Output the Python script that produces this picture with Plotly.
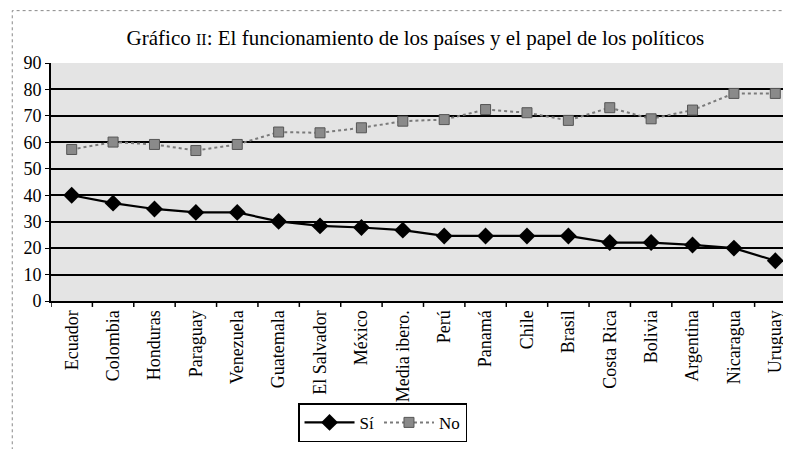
import plotly.graph_objects as go

categories = ["Ecuador", "Colombia", "Honduras", "Paraguay", "Venezuela", "Guatemala",
              "El Salvador", "México", "Media ibero.", "Perú", "Panamá", "Chile",
              "Brasil", "Costa Rica", "Bolivia", "Argentina", "Nicaragua", "Uruguay"]
si_values = [40.0, 37.0, 34.8, 33.5, 33.5, 30.1, 28.4, 27.8, 26.8, 24.6, 24.6, 24.6,
             24.6, 22.1, 22.1, 21.2, 20.0, 15.2]
no_values = [57.3, 60.1, 59.2, 56.9, 59.2, 63.9, 63.6, 65.5, 68.0, 68.6, 72.4, 71.2,
             68.3, 73.1, 68.9, 72.2, 78.5, 78.5]
y_ticks = [0, 10, 20, 30, 40, 50, 60, 70, 80, 90]

serif = "Liberation Serif, Times New Roman, serif"
x_idx = list(range(len(categories)))

fig = go.Figure()
fig.add_trace(go.Scatter(
    x=x_idx, y=si_values, name="Sí", mode="lines+markers",
    line=dict(color="black", width=2.2),
    marker=dict(symbol="diamond", size=13, color="black"),
))
fig.add_trace(go.Scatter(
    x=x_idx, y=no_values, name="No", mode="lines+markers",
    line=dict(color="#7a7a7a", width=2, dash="dot"),
    marker=dict(symbol="square", size=10, color="#8a8a8a",
                line=dict(color="#555555", width=1)),
))

fig.update_layout(
    width=791, height=449,
    margin=dict(l=43, r=3, t=55, b=156),
    paper_bgcolor="white",
    plot_bgcolor="#e4e4e4",
    font=dict(family=serif, color="black", size=15),
    title=dict(
        text="Gráfico <span style='font-size:16px'>II</span>: El funcionamiento de los países y el papel de los políticos",
        x=0.515, xanchor="center", y=0.935, yanchor="middle",
        font=dict(family=serif, size=21, color="black"),
    ),
    showlegend=True,
    legend=dict(
        orientation="h", x=0.445, xanchor="center", y=-0.43, yanchor="top",
        bordercolor="black", borderwidth=1.5, bgcolor="white",
        font=dict(family=serif, size=17, color="black"),
        itemwidth=50, traceorder="normal",
    ),
    shapes=[dict(type="rect", xref="paper", yref="paper",
                 x0=-0.052, x1=1.0, y0=-0.645, y1=1.22,
                 line=dict(color="#888888", width=1, dash="dot"))],
)

fig.update_xaxes(
    tickmode="array", tickvals=x_idx, ticktext=categories,
    tickangle=-90, range=[-0.5, len(categories) - 0.5],
    showgrid=False, showline=True, linecolor="black", linewidth=2,
    ticks="", tickfont=dict(family=serif, size=18, color="black"),
    mirror=False, zeroline=False,
)
fig.update_yaxes(
    tickmode="array", tickvals=y_ticks, range=[0, 90],
    showgrid=True, gridcolor="black", gridwidth=1.6,
    showline=True, linecolor="black", linewidth=2,
    ticks="outside", ticklen=4, tickcolor="black",
    tickfont=dict(family=serif, size=18, color="black"),
    zeroline=False,
)

# tick marks between categories on the x axis
for i in range(len(categories) + 1):
    fig.add_shape(type="line", xref="x", yref="paper",
                  x0=i - 0.5, x1=i - 0.5, y0=0, y1=-0.025,
                  line=dict(color="black", width=1.5))

fig.write_html("out.html")
